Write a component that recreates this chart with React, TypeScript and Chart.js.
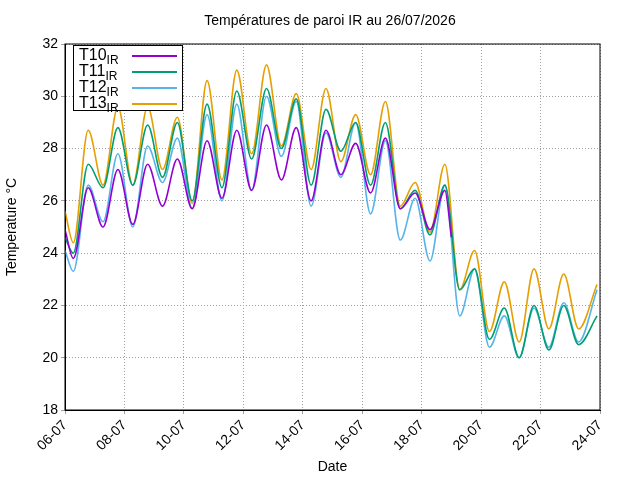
import React, { useEffect, useRef } from "react";
import { Chart, registerables } from "chart.js";
Chart.register(...registerables);

const dayLabels = ["06-07","07-07","08-07","09-07","10-07","11-07","12-07","13-07","14-07","15-07","16-07","17-07","18-07","19-07","20-07","21-07","22-07","23-07","24-07"];
const seriesNames = ["T10", "T11", "T12", "T13"];
const seriesColors = ["#9400d3", "#009e73", "#56b4e9", "#e69f00"];

const t10Start = 24.9;
const t10Mins = [23.8,25.0,25.1,25.8,25.7,26.1,26.4,26.8,26.0,27.0,26.3,25.7,24.9];
const t10Peaks = [26.5,27.2,27.4,27.6,28.3,28.7,28.9,28.8,28.7,28.2,28.4,26.3,26.4];
const t10End = 24.6;

const t11Start = 24.6;
const t11Mins = [24.0,26.5,26.6,26.9,26.0,26.5,27.6,28.0,26.6,27.9,26.6,25.7,24.7,22.6,20.7,20.0,20.3,20.5];
const t11Peaks = [27.4,28.8,28.9,29.0,29.7,30.2,30.3,29.9,29.5,29.0,29.0,26.4,26.6,23.4,21.9,22.0,22.0];
const t11End = 21.6;

const t12Start = 24.1;
const t12Mins = [23.3,25.2,25.0,26.7,25.7,26.0,26.4,27.7,25.8,26.9,25.5,24.5,23.7,21.6,20.4,20.0,20.4,20.6];
const t12Peaks = [26.6,27.8,28.1,28.4,29.3,29.7,30.0,29.8,28.6,29.0,28.3,26.1,26.6,23.4,21.6,21.9,22.1];
const t12End = 22.6;

const t13Start = 25.6;
const t13Mins = [24.4,26.6,26.6,27.2,25.9,26.8,27.8,28.1,27.2,27.5,27.0,25.8,24.8,22.6,21.0,20.6,21.1,21.1];
const t13Peaks = [28.7,29.6,29.6,29.2,30.6,31.0,31.2,30.1,30.3,29.3,29.8,26.7,27.4,24.1,22.9,23.4,23.2];
const t13End = 22.8;

function build(start: number, mins: number[], peaks: number[], end: number, endX: number) {
  const pts: { x: number; y: number }[] = [{ x: 0, y: start }];
  for (let d = 0; d < mins.length; d++) {
    pts.push({ x: d + 0.28, y: mins[d] });
    if (d < peaks.length) pts.push({ x: d + 0.78, y: peaks[d] });
  }
  pts.push({ x: endX, y: end });
  return pts;
}

export default function App() {
  const ref = useRef<HTMLCanvasElement>(null);
  useEffect(() => {
    const data = [
      build(t10Start, t10Mins, t10Peaks, t10End, 13.0),
      build(t11Start, t11Mins, t11Peaks, t11End, 17.9),
      build(t12Start, t12Mins, t12Peaks, t12End, 17.9),
      build(t13Start, t13Mins, t13Peaks, t13End, 17.9),
    ];
    const font = { family: "Liberation Sans, Arial, sans-serif", size: 14 };
    const chart = new Chart(ref.current!, {
      type: "line",
      data: {
        datasets: data.map((d, i) => ({
          label: seriesNames[i],
          data: d,
          borderColor: seriesColors[i],
          borderWidth: 1.6,
          pointRadius: 0,
          tension: 0.4,
          cubicInterpolationMode: "monotone" as const,
        })),
      },
      options: {
        animation: false,
        responsive: false,
        layout: { padding: { top: 44, right: 40, left: 0, bottom: 0 } },
        plugins: { legend: { display: false }, tooltip: { enabled: false } },
        scales: {
          x: {
            type: "linear",
            min: 0,
            max: 18,
            afterFit: (s: any) => { s.height = 70; },
            ticks: {
              stepSize: 2,
              maxRotation: 45,
              minRotation: 45,
              color: "#000",
              font,
              callback: (v: any) => dayLabels[Math.round(Number(v))],
            },
            grid: { color: "#a0a0a0", drawTicks: true, tickLength: 4 },
            border: { display: true, color: "#000", dash: [1, 2] },
            title: { display: true, text: "Date", color: "#000", font, padding: { top: 0 } },
          },
          y: {
            min: 18,
            max: 32,
            afterFit: (s: any) => { s.width = 65; },
            ticks: { stepSize: 2, color: "#000", font },
            grid: { color: "#a0a0a0", tickLength: 4 },
            border: { display: true, color: "#000", dash: [1, 2] },
            title: { display: true, text: "Temperature °C", color: "#000", font },
          },
        },
      },
      plugins: [
        {
          id: "frame",
          afterDraw(c: any) {
            const a = c.chartArea;
            const ctx = c.ctx;
            ctx.save();
            ctx.strokeStyle = "#000";
            ctx.lineWidth = 1;
            ctx.setLineDash([]);
            ctx.strokeRect(a.left, a.top, a.right - a.left, a.bottom - a.top);
            ctx.restore();
          },
          beforeDatasetsDraw(c: any) {
            const a = c.chartArea;
            const ctx = c.ctx;
            ctx.save();
            ctx.strokeStyle = "#a0a0a0";
            ctx.setLineDash([1, 2]);
            ctx.restore();
          },
        } as any,
      ],
    });
    return () => chart.destroy();
  }, []);

  const font = "Liberation Sans, Arial, sans-serif";
  return (
    <div style={{ position: "fixed", left: 0, top: 0, width: 640, height: 480, background: "#fff", fontFamily: font }}>
      <canvas ref={ref} width={640} height={480} />
      <div style={{ position: "absolute", top: 12, left: 0, width: 660, textAlign: "center", fontSize: 14 }}>
        Températures de paroi IR au 26/07/2026
      </div>
      <div style={{ position: "absolute", left: 73, top: 45, width: 108, height: 64, border: "1px solid #000", background: "#fff" }}>
        {seriesNames.map((n, i) => (
          <div key={n} style={{ position: "absolute", left: 5, top: 1 + i * 16, height: 16, width: 100, fontSize: 16, lineHeight: "16px" }}>
            <span>{n}<sub style={{ fontSize: 12 }}>IR</sub></span>
            <div style={{ position: "absolute", left: 53, top: 8, width: 45, height: 2, background: seriesColors[i] }} />
          </div>
        ))}
      </div>
    </div>
  );
}
